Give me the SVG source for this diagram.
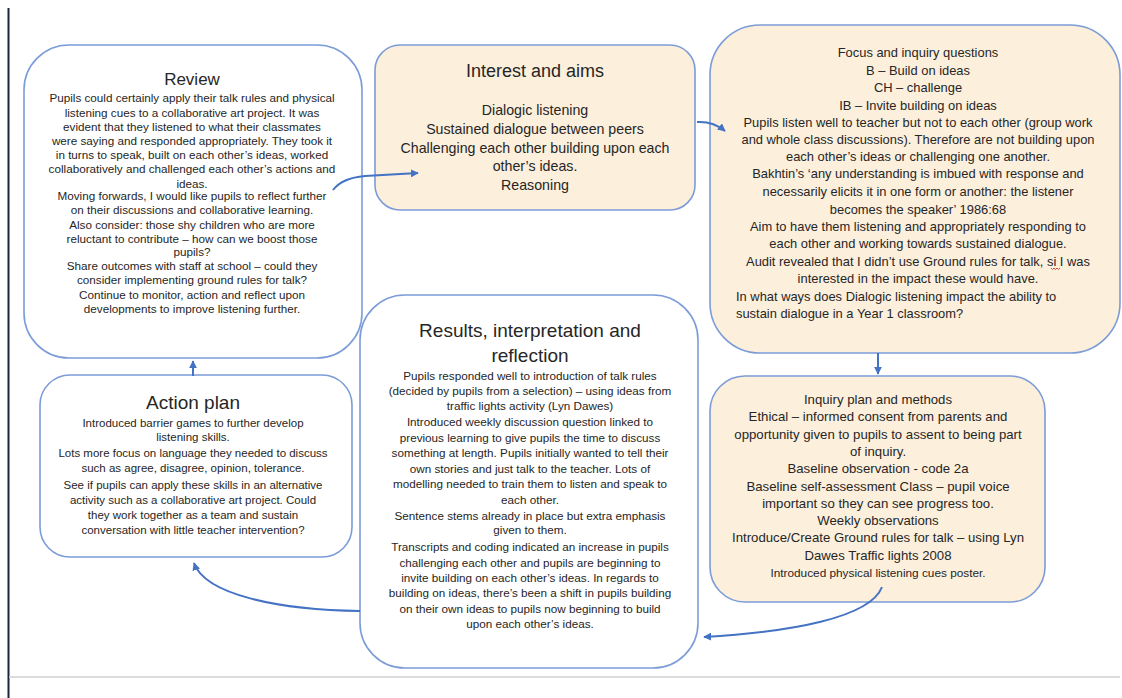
<svg xmlns="http://www.w3.org/2000/svg" width="1122" height="698" viewBox="0 0 1122 698">
<defs>
<style>
.box{stroke:#7c9cd8;stroke-width:1.6}
.w{fill:#ffffff}
.t{fill:#fcefdc}
text{font-family:"Liberation Sans",Arial,sans-serif;fill:#262626;text-anchor:middle}
.h{font-size:18px}
.rv{font-size:11.7px}
.ap{font-size:11.5px}
.fq{font-size:12.9px}
.rs{font-size:11.7px}
.iq{font-size:13.2px}
.ia{font-size:14.2px}
.c{fill:none;stroke:#4472c4;stroke-width:2}
</style>
<marker id="ah" viewBox="0 0 10 10" refX="9" refY="5" markerWidth="8" markerHeight="8" markerUnits="userSpaceOnUse" orient="auto">
<path d="M0,0 L10,5 L0,10 z" fill="#4472c4"/>
</marker>
</defs>
<rect x="0" y="0" width="1122" height="698" fill="#ffffff"/>
<line x1="8.5" y1="8" x2="8.5" y2="698" stroke="#1e2340" stroke-width="2"/>
<line x1="9" y1="677" x2="1120" y2="677" stroke="#d0d0d0" stroke-width="1.5"/>

<g id="review">
<rect class="box w" x="24" y="45" width="338" height="313" rx="45" ry="45"/>
<text class="h" x="192" y="85" style="font-size:17px">Review</text>
<g class="rv">
<text x="192" y="102">Pupils could certainly apply their talk rules and physical</text>
<text x="192" y="117">listening cues to a collaborative art project. It was</text>
<text x="192" y="131">evident that they listened to what their classmates</text>
<text x="192" y="145">were saying and responded appropriately. They took it</text>
<text x="192" y="159">in turns to speak, built on each other’s ideas, worked</text>
<text x="192" y="173">collaboratively and challenged each other’s actions and</text>
<text x="192" y="188">ideas.</text>
<text x="192" y="200">Moving forwards, I would like pupils to reflect further</text>
<text x="192" y="214">on their discussions and collaborative learning.</text>
<text x="192" y="229">Also consider: those shy children who are more</text>
<text x="192" y="243">reluctant to contribute – how can we boost those</text>
<text x="192" y="256">pupils?</text>
<text x="192" y="270">Share outcomes with staff at school – could they</text>
<text x="192" y="284">consider implementing ground rules for talk?</text>
<text x="192" y="299">Continue to monitor, action and reflect upon</text>
<text x="192" y="313">developments to improve listening further.</text>
</g>
</g>

<g id="interest">
<rect class="box t" x="375" y="45" width="320" height="165" rx="25" ry="25"/>
<text class="h" x="535" y="77">Interest and aims</text>
<g class="ia">
<text x="535" y="115">Dialogic listening</text>
<text x="535" y="134">Sustained dialogue between peers</text>
<text x="535" y="153">Challenging each other building upon each</text>
<text x="535" y="171">other’s ideas.</text>
<text x="535" y="190">Reasoning</text>
</g>
</g>

<g id="focus">
<rect class="box t" x="710" y="25" width="410" height="328" rx="50" ry="50"/>
<g class="fq">
<text x="918" y="57">Focus and inquiry questions</text>
<text x="918" y="75">B – Build on ideas</text>
<text x="918" y="92">CH – challenge</text>
<text x="918" y="110">IB – Invite building on ideas</text>
<text x="918" y="127">Pupils listen well to teacher but not to each other (group work</text>
<text x="918" y="144">and whole class discussions). Therefore are not building upon</text>
<text x="918" y="161">each other’s ideas or challenging one another.</text>
<text x="918" y="178">Bakhtin’s ‘any understanding is imbued with response and</text>
<text x="918" y="196">necessarily elicits it in one form or another: the listener</text>
<text x="918" y="214">becomes the speaker’ 1986:68</text>
<text x="918" y="231">Aim to have them listening and appropriately responding to</text>
<text x="918" y="248">each other and working towards sustained dialogue.</text>
<text x="918" y="266">Audit revealed that I didn’t use Ground rules for talk, si I was</text>
<text x="918" y="283">interested in the impact these would have.</text>
<text x="736" y="301" style="text-anchor:start">In what ways does Dialogic listening impact the ability to</text>
<text x="736" y="318" style="text-anchor:start">sustain dialogue in a Year 1 classroom?</text>
</g>
<path d="M1051,268 l1.5,1.5 l1.5,-1.5 l1.5,1.5 l1.5,-1.5 l1.5,1.5 l1.5,-1.5" fill="none" stroke="#e03030" stroke-width="0.9"/>
</g>

<g id="action">
<rect class="box w" x="40" y="375" width="312" height="182" rx="30" ry="30"/>
<text class="h" x="193" y="409" style="font-size:19px">Action plan</text>
<g class="ap">
<text x="193" y="427">Introduced barrier games to further develop</text>
<text x="193" y="441">listening skills.</text>
<text x="193" y="457">Lots more focus on language they needed to discuss</text>
<text x="193" y="472">such as agree, disagree, opinion, tolerance.</text>
<text x="193" y="489">See if pupils can apply these  skills in an alternative</text>
<text x="193" y="504">activity such as a collaborative art project. Could</text>
<text x="193" y="519">they work together as a team and sustain</text>
<text x="193" y="534">conversation with little teacher intervention?</text>
</g>
</g>

<g id="results">
<rect class="box w" x="360" y="295" width="338" height="373" rx="45" ry="45"/>
<text class="h" x="530" y="337" style="font-size:19px">Results, interpretation and</text>
<text class="h" x="530" y="362" style="font-size:19px">reflection</text>
<g class="rs">
<text x="530" y="380">Pupils responded well to introduction of talk rules</text>
<text x="530" y="395">(decided by pupils from a selection) – using ideas from</text>
<text x="530" y="410">traffic lights activity (Lyn Dawes)</text>
<text x="530" y="426">Introduced weekly discussion question linked to</text>
<text x="530" y="442">previous learning to give pupils the time to discuss</text>
<text x="530" y="457">something at length. Pupils initially wanted to tell their</text>
<text x="530" y="473">own stories and just talk to the teacher. Lots of</text>
<text x="530" y="488">modelling needed to train them to listen and speak to</text>
<text x="530" y="504">each other.</text>
<text x="530" y="520">Sentence stems already in place but extra emphasis</text>
<text x="530" y="534">given to them.</text>
<text x="530" y="551">Transcripts and coding indicated an increase in pupils</text>
<text x="530" y="567">challenging each other and pupils are beginning to</text>
<text x="530" y="582">invite building on each other’s ideas. In regards to</text>
<text x="530" y="597">building on ideas, there’s been a shift in pupils building</text>
<text x="530" y="613">on their own ideas to pupils now beginning to build</text>
<text x="530" y="628">upon each other’s ideas.</text>
</g>
</g>

<g id="inquiry">
<rect class="box t" x="710" y="376" width="335" height="226" rx="35" ry="35"/>
<g class="iq">
<text x="878" y="404">Inquiry plan and methods</text>
<text x="878" y="421">Ethical – informed consent from parents and</text>
<text x="878" y="439">opportunity given to pupils to assent to being part</text>
<text x="878" y="456">of inquiry.</text>
<text x="878" y="473">Baseline observation - code 2a</text>
<text x="878" y="491">Baseline self-assessment Class – pupil voice</text>
<text x="878" y="508">important so they can see progress too.</text>
<text x="878" y="525">Weekly observations</text>
<text x="878" y="542">Introduce/Create Ground rules for talk – using Lyn</text>
<text x="878" y="560">Dawes Traffic lights 2008</text>
<text x="878" y="577" style="font-size:11.8px">Introduced physical listening cues poster.</text>
</g>
</g>

<g id="connectors">
<path class="c" d="M333,190 Q342,178 365,176 L418,173" marker-end="url(#ah)"/>
<path class="c" d="M697,122 Q713,121 725,131" marker-end="url(#ah)"/>
<path class="c" d="M878,353 L878,374" marker-end="url(#ah)"/>
<path class="c" d="M882,587 C870,618 790,632 704,637" marker-end="url(#ah)"/>
<path class="c" d="M360,611 C280,610 205,595 194,563" marker-end="url(#ah)"/>
<path class="c" d="M193,376 L193,361" marker-end="url(#ah)"/>
</g>
</svg>
